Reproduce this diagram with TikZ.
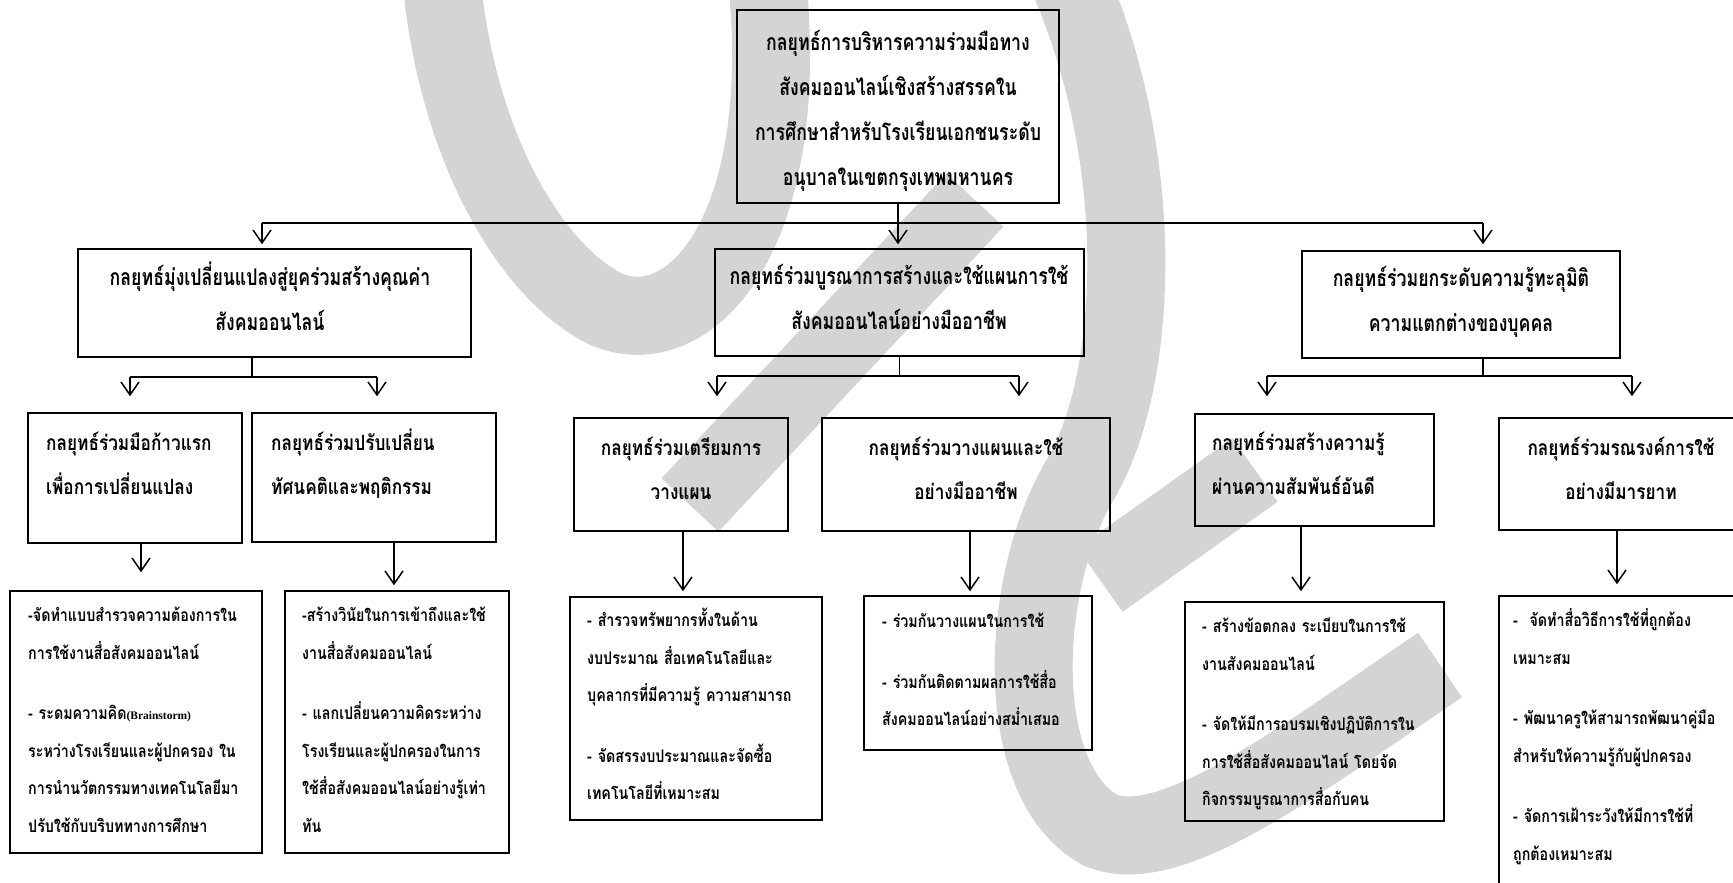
\documentclass[tikz,border=0pt]{standalone}
\usepackage{fontspec}
\newfontfamily\thai[Script=Thai,FakeStretch=0.82]{Loma}
\newfontfamily\thaiw[Script=Thai,FakeStretch=0.77]{Loma}
\newfontfamily\latinserif{Liberation Serif}
\usetikzlibrary{arrows.meta}
\definecolor{wm}{RGB}{212,212,212}
\tikzset{
  box/.style={draw=black, line width=1.5pt, rectangle, inner sep=0pt},
  conn/.style={draw=black, line width=1.5pt},
  arr/.style={draw=black, line width=1.5pt, -{Straight Barb[length=13pt,width=18pt,line width=1.5pt]}},
  wmark/.style={draw=wm, line width=78pt, line cap=butt},
  lone/.style={inner sep=0pt, anchor=north, text width=380pt, align=center,
    font=\thaiw\bfseries\fontsize{23}{45}\selectfont, execute at begin node={\rule{0pt}{28.75pt}}},
  ltwoc/.style={inner sep=0pt, anchor=north, text width=300pt, align=center,
    font=\thai\bfseries\fontsize{21}{44}\selectfont, execute at begin node={\rule{0pt}{26.25pt}}},
  ltwol/.style={inner sep=0pt, anchor=north west, text width=300pt, align=left,
    font=\thai\bfseries\fontsize{21}{44}\selectfont, execute at begin node={\rule{0pt}{26.25pt}}},
  detl/.style={inner sep=0pt, anchor=north west, text width=300pt, align=left,
    font=\thai\bfseries\fontsize{17.4}{37.5}\selectfont, execute at begin node={\rule{0pt}{21.75pt}}}
}
\begin{document}
\begin{tikzpicture}[x=1pt,y=-1pt]
\useasboundingbox (0,0) rectangle (1733,883);
\fill[white] (0,0) rectangle (1733,883);
% watermark
\draw[wmark] (440,-40) .. controls (450,120) and (515,250) .. (590,300) .. controls (675,360) and (800,250) .. (765,-40);
\draw[wmark] (690,505) -- (975,200);
\draw[wmark] (1060,-40) .. controls (1150,150) and (1140,380) .. (1080,480) .. controls (1020,580) and (1010,780) .. (1100,830) .. controls (1170,860) and (1300,760) .. (1440,665);
\draw[wmark] (1100,580) -- (1255,470);

% level 0 and 1 boxes
\node[box, minimum width=322pt, minimum height=193pt] (T) at (898,106.5) {};
\node[box, minimum width=393pt, minimum height=108pt] (L1) at (274.5,303) {};
\node[box, minimum width=369pt, minimum height=107pt] (M1) at (899.5,302.5) {};
\node[box, minimum width=318pt, minimum height=107pt] (R1) at (1461,304.5) {};
% level 2 boxes
\node[box, minimum width=214pt, minimum height=130pt] (L1a) at (135,478) {};
\node[box, minimum width=244pt, minimum height=129pt] (L1b) at (374,477.5) {};
\node[box, minimum width=214pt, minimum height=113pt] (M1a) at (681,474.5) {};
\node[box, minimum width=288pt, minimum height=113pt] (M1b) at (966,474.5) {};
\node[box, minimum width=239pt, minimum height=112pt] (R1a) at (1314.5,470) {};
\node[box, minimum width=243pt, minimum height=112pt] (R1b) at (1620.5,474) {};
% detail boxes
\node[box, minimum width=252pt, minimum height=262pt] (L1ad) at (136,722) {};
\node[box, minimum width=224pt, minimum height=262pt] (L1bd) at (397,722) {};
\node[box, minimum width=252pt, minimum height=223pt] (M1ad) at (696,708.5) {};
\node[box, minimum width=228pt, minimum height=154pt] (M1bd) at (978,673) {};
\node[box, minimum width=259pt, minimum height=219pt] (R1ad) at (1314.5,711.5) {};
\node[box, minimum width=243pt, minimum height=304pt] (R1bd) at (1620.5,748) {};

% texts
\node[lone] (tT) at (898,22) {กลยุทธ์การบริหารความร่วมมือทาง\\สังคมออนไลน์เชิงสร้างสรรคใน\\การศึกษาสำหรับโรงเรียนเอกชนระดับ\\อนุบาลในเขตกรุงเทพมหานคร};
\node[lone] (tL1) at (270,256.5) {กลยุทธ์มุ่งเปลี่ยนแปลงสู่ยุคร่วมสร้างคุณค่า\\สังคมออนไลน์};
\node[lone] (tM1) at (899,255.5) {กลยุทธ์ร่วมบูรณาการสร้างและใช้แผนการใช้\\สังคมออนไลน์อย่างมืออาชีพ};
\node[lone] (tR1) at (1461,257.5) {กลยุทธ์ร่วมยกระดับความรู้ทะลุมิติ\\ความแตกต่างของบุคคล};

\node[ltwol] (tL1a) at (46,424.4) {กลยุทธ์ร่วมมือก้าวแรก\\เพื่อการเปลี่ยนแปลง};
\node[ltwol] (tL1b) at (271,424.4) {กลยุทธ์ร่วมปรับเปลี่ยน\\ทัศนคติและพฤติกรรม};
\node[ltwoc] (tM1a) at (681,429.4) {กลยุทธ์ร่วมเตรียมการ\\วางแผน};
\node[ltwoc] (tM1b) at (966,429.4) {กลยุทธ์ร่วมวางแผนและใช้\\อย่างมืออาชีพ};
\node[ltwol] (tR1a) at (1212,424.4) {กลยุทธ์ร่วมสร้างความรู้\\ผ่านความสัมพันธ์อันดี};
\node[ltwoc] (tR1b) at (1621,429.4) {กลยุทธ์ร่วมรณรงค์การใช้\\อย่างมีมารยาท};

\node[detl] (tL1ad) at (28,599.9) {-จัดทำแบบสำรวจความต้องการใน\\การใช้งานสื่อสังคมออนไลน์\\[23pt]- ระดมความคิด{\latinserif\bfseries\fontsize{11.5}{11.5}\selectfont(Brainstorm)}\\ระหว่างโรงเรียนและผู้ปกครอง ใน\\การนำนวัตกรรมทางเทคโนโลยีมา\\ปรับใช้กับบริบททางการศึกษา};
\node[detl] (tL1bd) at (302,599.9) {-สร้างวินัยในการเข้าถึงและใช้\\งานสื่อสังคมออนไลน์\\[23pt]- แลกเปลี่ยนความคิดระหว่าง\\โรงเรียนและผู้ปกครองในการ\\ใช้สื่อสังคมออนไลน์อย่างรู้เท่า\\ทัน};
\node[detl] (tM1ad) at (587,604.9) {- สำรวจทรัพยากรทั้งในด้าน\\งบประมาณ สื่อเทคโนโลยีและ\\บุคลากรที่มีความรู้ ความสามารถ\\[23pt]- จัดสรรงบประมาณและจัดซื้อ\\เทคโนโลยีที่เหมาะสม};
\node[detl] (tM1bd) at (882,605.9) {- ร่วมกันวางแผนในการใช้\\[23pt]- ร่วมกันติดตามผลการใช้สื่อ\\สังคมออนไลน์อย่างสม่ำเสมอ};
\node[detl] (tR1ad) at (1202,610.9) {- สร้างข้อตกลง ระเบียบในการใช้\\งานสังคมออนไลน์\\[23pt]- จัดให้มีการอบรมเชิงปฏิบัติการใน\\การใช้สื่อสังคมออนไลน์ โดยจัด\\กิจกรรมบูรณาการสื่อกับคน};
\node[detl] (tR1bd) at (1513,604.9) {-\ \ จัดทำสื่อวิธีการใช้ที่ถูกต้อง\\เหมาะสม\\[23pt]- พัฒนาครูให้สามารถพัฒนาคู่มือ\\สำหรับให้ความรู้กับผู้ปกครอง\\[23pt]- จัดการเฝ้าระวังให้มีการใช้ที่\\ถูกต้องเหมาะสม};

% main connectors
\coordinate (jL) at (262,223);
\coordinate (jM) at (898,223);
\coordinate (jR) at (1483,223);
\draw[conn] (T.south) -- (jM);
\draw[conn] (jL) -- (jR);
\draw[arr, shorten >=4pt] (jL) -- (jL |- L1.north);
\draw[arr, shorten >=4pt] (jM) -- (jM |- M1.north);
\draw[arr, shorten >=6pt] (jR) -- (jR |- R1.north);

% sub connectors left
\coordinate (sLa) at (130,377);
\coordinate (sLb) at (377,377);
\draw[conn] ([xshift=-22.5pt]L1.south) -- ([xshift=-22.5pt]L1.south |- sLa);
\draw[conn] (sLa) -- (sLb);
\draw[arr, shorten >=16pt] (sLa) -- (sLa |- L1a.north);
\draw[arr, shorten >=16pt] (sLb) -- (sLb |- L1b.north);
% sub connectors middle
\coordinate (sMa) at (717,376);
\coordinate (sMb) at (1019,376);
\draw[conn] (M1.south) -- (M1.south |- sMa);
\draw[conn] (sMa) -- (sMb);
\draw[arr, shorten >=21pt] (sMa) -- (sMa |- M1a.north);
\draw[arr, shorten >=21pt] (sMb) -- (sMb |- M1b.north);
% sub connectors right
\coordinate (sRa) at (1267,376);
\coordinate (sRb) at (1632,376);
\draw[conn] ([xshift=22pt]R1.south) -- ([xshift=22pt]R1.south |- sRa);
\draw[conn] (sRa) -- (sRb);
\draw[arr, shorten >=17pt] (sRa) -- (sRa |- R1a.north);
\draw[arr, shorten >=21pt] (sRb) -- (sRb |- R1b.north);

% detail arrows
\draw[arr, shorten >=18pt] ([xshift=6pt]L1a.south) -- ([xshift=5pt]L1ad.north);
\draw[arr, shorten >=5pt] ([xshift=20pt]L1b.south) -- ([xshift=-3pt]L1bd.north);
\draw[arr, shorten >=5pt] ([xshift=2pt]M1a.south) -- ([xshift=-13pt]M1ad.north);
\draw[arr, shorten >=4pt] ([xshift=4pt]M1b.south) -- ([xshift=-8pt]M1bd.north);
\draw[arr, shorten >=10pt] ([xshift=-13.5pt]R1a.south) -- ([xshift=-13.5pt]R1ad.north);
\draw[arr, shorten >=11pt] ([xshift=-3.5pt]R1b.south) -- ([xshift=-3.5pt]R1bd.north);
\end{tikzpicture}
\end{document}
